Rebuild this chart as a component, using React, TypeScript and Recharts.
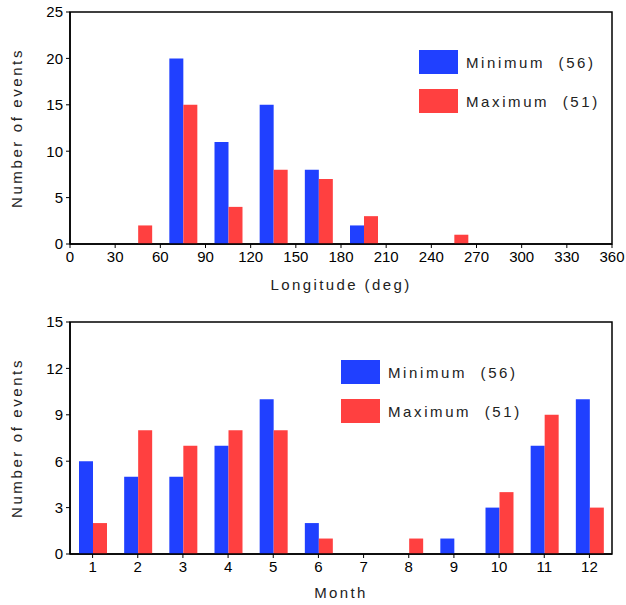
import React from "react";
import {
  BarChart,
  Bar,
  XAxis,
  YAxis,
  ReferenceArea,
  Legend,
  Label,
} from "recharts";

// longitude bins (30 deg wide, centre values)
const lonBins = [15, 45, 75, 105, 135, 165, 195, 225, 255, 285, 315, 345];
const lonMin = [0, 0, 20, 11, 15, 8, 2, 0, 0, 0, 0, 0];
const lonMax = [0, 2, 15, 4, 8, 7, 3, 0, 1, 0, 0, 0];
const lonTicks = [0, 30, 60, 90, 120, 150, 180, 210, 240, 270, 300, 330, 360];
const lonYTicks = [0, 5, 10, 15, 20, 25];

const months = [1, 2, 3, 4, 5, 6, 7, 8, 9, 10, 11, 12];
const monMin = [6, 5, 5, 7, 10, 2, 0, 0, 1, 3, 7, 10];
const monMax = [2, 8, 7, 8, 8, 1, 0, 1, 0, 4, 9, 3];
const monYTicks = [0, 3, 6, 9, 12, 15];

const seriesNames = ["Minimum  (56)", "Maximum  (51)"];

const BLUE = "#2040ff";
const RED = "#ff4040";
const seriesColors = [BLUE, RED];
const FONT = "'Liberation Sans', Arial, sans-serif";

const lonData = lonBins.map((b, i) => ({ bin: b, min: lonMin[i], max: lonMax[i] }));
const monData = months.map((m, i) => ({ month: m, min: monMin[i], max: monMax[i] }));

const tickStyle = { fontSize: 15, fill: "#000", fontFamily: FONT };
const axisLine = { stroke: "#000", strokeWidth: 1.5 };

// fixed order legend (recharts sorts by name otherwise)
function LegendBox() {
  return (
    <div style={{ fontFamily: FONT }}>
      {seriesNames.map((name, i) => (
        <div key={name} style={{ display: "flex", alignItems: "center", height: 24, marginBottom: 15 }}>
          <div style={{ width: 39, height: 24, background: seriesColors[i] }} />
          <span
            style={{
              marginLeft: 8,
              fontSize: 15,
              letterSpacing: 2.6,
              color: "#222",
              whiteSpace: "pre",
            }}
          >
            {name}
          </span>
        </div>
      ))}
    </div>
  );
}

function yTitle(props: any) {
  const vb = props.viewBox;
  const cy = vb.y + vb.height / 2;
  return (
    <text
      transform={`translate(22,${cy}) rotate(-90)`}
      textAnchor="middle"
      fontSize={15}
      fontFamily={FONT}
      letterSpacing={2.6}
      fill="#222"
    >
      Number of events
    </text>
  );
}

function xTitle(text: string, dy: number) {
  return (props: any) => {
    const vb = props.viewBox;
    return (
      <text
        x={vb.x + vb.width / 2}
        y={vb.y + dy}
        textAnchor="middle"
        fontSize={15}
        fontFamily={FONT}
        letterSpacing={2.4}
        fill="#222"
      >
        {text}
      </text>
    );
  };
}

export default function App() {
  return (
    <div style={{ position: "absolute", left: 0, top: 0, width: 626, height: 605, background: "#fff" }}>
      <div style={{ position: "absolute", left: 0, top: 0 }}>
        <BarChart
          width={626}
          height={300}
          data={lonData}
          margin={{ top: 12, right: 14, bottom: 0, left: 0 }}
          barGap={0}
          barSize={14}
        >
          <XAxis
            dataKey="bin"
            type="number"
            domain={[0, 360]}
            ticks={lonTicks}
            interval={0}
            height={56}
            tick={tickStyle}
            tickSize={4}
            tickMargin={3}
            tickLine={{ stroke: "#000" }}
            axisLine={axisLine}
          >
            <Label content={xTitle("Longitude (deg)", 46)} />
          </XAxis>
          <YAxis
            domain={[0, 25]}
            ticks={lonYTicks}
            interval={0}
            width={70}
            tick={tickStyle}
            tickSize={4}
            tickMargin={3}
            tickLine={{ stroke: "#000" }}
            axisLine={axisLine}
          >
            <Label content={yTitle} />
          </YAxis>
          <ReferenceArea x1={0} x2={360} y1={0} y2={25} fill="none" stroke="#000" strokeWidth={1.5} />
          <Bar dataKey="min" name={seriesNames[0]} fill={BLUE} isAnimationActive={false} />
          <Bar dataKey="max" name={seriesNames[1]} fill={RED} isAnimationActive={false} />
          <Legend
            layout="vertical"
            align="center"
            verticalAlign="middle"
            content={LegendBox}
            wrapperStyle={{ position: "absolute", left: 419, top: 50, width: 200 }}
          />
        </BarChart>
      </div>
      <div style={{ position: "absolute", left: 0, top: 300 }}>
        <BarChart
          width={626}
          height={305}
          data={monData}
          margin={{ top: 22, right: 14, bottom: 0, left: 0 }}
          barGap={0}
          barSize={14}
        >
          <XAxis
            dataKey="month"
            interval={0}
            height={51}
            tick={tickStyle}
            tickSize={4}
            tickMargin={3}
            tickLine={{ stroke: "#000" }}
            axisLine={axisLine}
          >
            <Label content={xTitle("Month", 44)} />
          </XAxis>
          <YAxis
            domain={[0, 15]}
            ticks={monYTicks}
            interval={0}
            width={70}
            tick={tickStyle}
            tickSize={4}
            tickMargin={3}
            tickLine={{ stroke: "#000" }}
            axisLine={axisLine}
          >
            <Label content={yTitle} />
          </YAxis>
          <ReferenceArea y1={0} y2={15} fill="none" stroke="#000" strokeWidth={1.5} />
          <Bar dataKey="min" name={seriesNames[0]} fill={BLUE} isAnimationActive={false} />
          <Bar dataKey="max" name={seriesNames[1]} fill={RED} isAnimationActive={false} />
          <Legend
            layout="vertical"
            align="center"
            verticalAlign="middle"
            content={LegendBox}
            wrapperStyle={{ position: "absolute", left: 341, top: 60, width: 200 }}
          />
        </BarChart>
      </div>
    </div>
  );
}
